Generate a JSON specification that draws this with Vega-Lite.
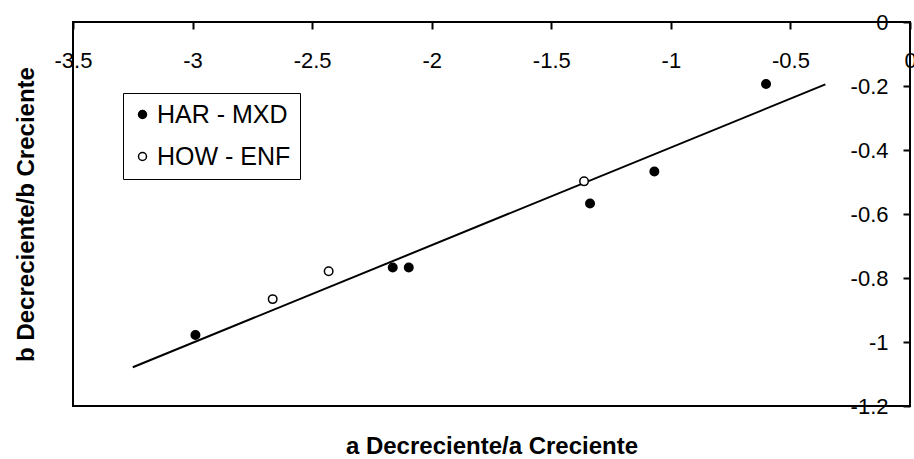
{
  "$schema": "https://vega.github.io/schema/vega-lite/v6.json",
  "width": 837,
  "height": 384,
  "autosize": {"type": "none"},
  "padding": {"left": 73, "top": 22, "right": 4, "bottom": 53},
  "background": "white",
  "config": {
    "font": "Liberation Sans",
    "view": {"stroke": "black", "strokeWidth": 2},
    "axis": {
      "grid": false,
      "domain": false,
      "labelColor": "black",
      "labelFont": "Liberation Sans",
      "labelFontSize": 22,
      "labelFlush": false,
      "labelOverlap": false,
      "tickColor": "black",
      "tickWidth": 2,
      "titleColor": "black",
      "titleFont": "Liberation Sans",
      "titleFontSize": 24,
      "titleFontWeight": "bold"
    }
  },
  "resolve": {"axis": {"x": "independent", "y": "independent"}},
  "layer": [
    {
      "data": {"values": [
        {"a": -3.25, "b": -1.079},
        {"a": -0.354, "b": -0.195}
      ]},
      "mark": {"type": "line", "color": "black", "strokeWidth": 2},
      "encoding": {
        "x": {
          "field": "a", "type": "quantitative",
          "scale": {"domain": [-3.5, 0], "nice": false, "zero": false},
          "axis": {
            "orient": "top", "title": null,
            "values": [-3.5, -3, -2.5, -2, -1.5, -1, -0.5, 0],
            "labelExpr": "toString(datum.value)",
            "tickSize": -7, "labelPadding": -31.5, "labelBaseline": "middle"
          }
        },
        "y": {
          "field": "b", "type": "quantitative",
          "scale": {"domain": [-1.2, 0], "nice": false, "zero": false},
          "axis": {
            "orient": "right", "title": null,
            "values": [-1.2, -1, -0.8, -0.6, -0.4, -0.2, 0],
            "labelExpr": "toString(datum.value)",
            "tickSize": -7, "labelPadding": -15, "labelAlign": "right", "labelBaseline": "middle"
          }
        }
      }
    },
    {
      "data": {"values": [
        {"a": -2.988, "b": -0.978, "serie": "HAR - MXD"},
        {"a": -2.163, "b": -0.767, "serie": "HAR - MXD"},
        {"a": -2.096, "b": -0.767, "serie": "HAR - MXD"},
        {"a": -1.338, "b": -0.567, "serie": "HAR - MXD"},
        {"a": -1.069, "b": -0.467, "serie": "HAR - MXD"},
        {"a": -0.602, "b": -0.194, "serie": "HAR - MXD"},
        {"a": -2.665, "b": -0.866, "serie": "HOW - ENF"},
        {"a": -2.431, "b": -0.779, "serie": "HOW - ENF"},
        {"a": -1.363, "b": -0.498, "serie": "HOW - ENF"}
      ]},
      "mark": {"type": "point", "shape": "circle", "filled": true, "size": 72, "stroke": "black", "strokeWidth": 1.5, "opacity": 1},
      "encoding": {
        "x": {
          "field": "a", "type": "quantitative",
          "axis": {
            "orient": "bottom", "labels": false, "ticks": false,
            "title": "a Decreciente/a Creciente",
            "titleY": 47, "titleBaseline": "alphabetic", "titleAlign": "center"
          }
        },
        "y": {
          "field": "b", "type": "quantitative",
          "axis": {
            "orient": "left", "labels": false, "ticks": false,
            "title": "b Decreciente/b Creciente",
            "titleX": -40, "titleY": 192, "titleAngle": -90,
            "titleBaseline": "alphabetic", "titleAlign": "center"
          }
        },
        "fill": {
          "field": "serie", "type": "nominal",
          "scale": {"domain": ["HAR - MXD", "HOW - ENF"], "range": ["black", "white"]},
          "legend": {
            "orient": "none", "legendX": 50, "legendY": 71,
            "title": null,
            "strokeColor": "black",
            "padding": 9, "rowPadding": 16,
            "symbolType": "circle", "symbolSize": 64,
            "symbolStrokeColor": "black", "symbolStrokeWidth": 1.5,
            "symbolOffset": -2, "labelOffset": 2,
            "labelFont": "Liberation Sans", "labelFontSize": 25, "labelColor": "black"
          }
        }
      }
    }
  ]
}
